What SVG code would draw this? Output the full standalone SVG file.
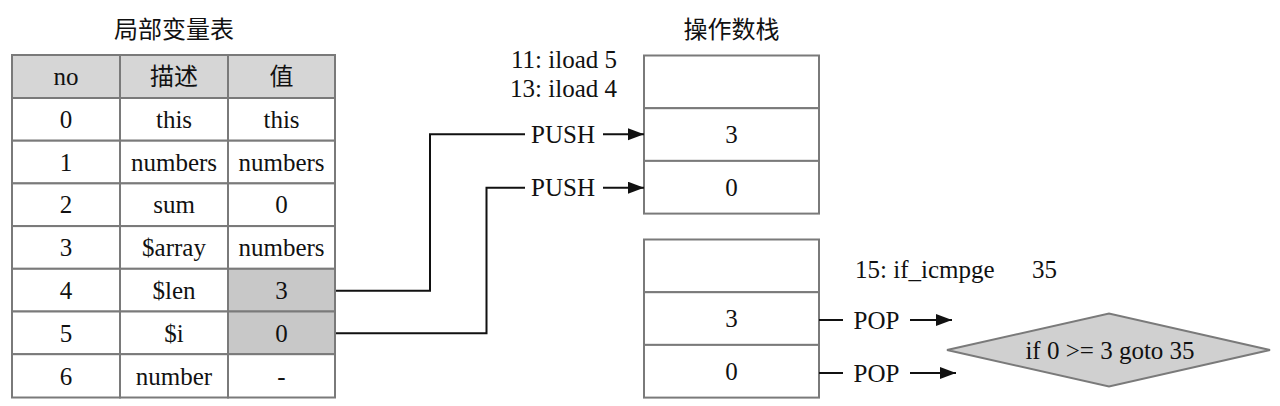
<svg xmlns="http://www.w3.org/2000/svg" width="1280" height="406" viewBox="0 0 1280 406">
<style>
text{font-family:"Liberation Serif","Noto Sans CJK SC",serif;font-size:25px;fill:#111;text-anchor:middle}
.cjk{font-family:"Noto Sans CJK SC","Liberation Serif",serif;font-size:24px}
.cell{fill:#fff;stroke:#7a7a7a;stroke-width:2}
.hd{fill:#d6d6d6;stroke:#7a7a7a;stroke-width:2}
.hl{fill:#c8c8c8;stroke:#7a7a7a;stroke-width:2}
.wire{fill:none;stroke:#111;stroke-width:2}
.arr{fill:none;stroke:#111;stroke-width:2;marker-end:url(#ah)}
</style>
<defs>
<marker id="ah" markerUnits="userSpaceOnUse" markerWidth="18" markerHeight="14" refX="16" refY="6" orient="auto">
<path d="M0,0 L16,6 L0,12 Z" fill="#111"/>
</marker>
</defs>
<rect width="1280" height="406" fill="#fff"/>

<g id="local-var-table">
<text class="cjk" x="174" y="38">局部变量表</text>
<rect class="hd" x="12" y="55" width="108" height="43"/>
<rect class="hd" x="120" y="55" width="108" height="43"/>
<rect class="hd" x="228" y="55" width="107" height="43"/>
<text x="66" y="85">no</text>
<text class="cjk" x="174" y="85">描述</text>
<text class="cjk" x="281.5" y="85">值</text>

<rect class="cell" x="12" y="98" width="108" height="42.7"/>
<rect class="cell" x="120" y="98" width="108" height="42.7"/>
<rect class="cell" x="228" y="98" width="107" height="42.7"/>
<text x="66" y="128">0</text><text x="174" y="128">this</text><text x="281.5" y="128">this</text>

<rect class="cell" x="12" y="140.7" width="108" height="42.7"/>
<rect class="cell" x="120" y="140.7" width="108" height="42.7"/>
<rect class="cell" x="228" y="140.7" width="107" height="42.7"/>
<text x="66" y="170.7">1</text><text x="174" y="170.7">numbers</text><text x="281.5" y="170.7">numbers</text>

<rect class="cell" x="12" y="183.4" width="108" height="42.7"/>
<rect class="cell" x="120" y="183.4" width="108" height="42.7"/>
<rect class="cell" x="228" y="183.4" width="107" height="42.7"/>
<text x="66" y="213.4">2</text><text x="174" y="213.4">sum</text><text x="281.5" y="213.4">0</text>

<rect class="cell" x="12" y="226.1" width="108" height="42.7"/>
<rect class="cell" x="120" y="226.1" width="108" height="42.7"/>
<rect class="cell" x="228" y="226.1" width="107" height="42.7"/>
<text x="66" y="256.1">3</text><text x="174" y="256.1">$array</text><text x="281.5" y="256.1">numbers</text>

<rect class="cell" x="12" y="268.8" width="108" height="42.7"/>
<rect class="cell" x="120" y="268.8" width="108" height="42.7"/>
<rect class="hl" x="228" y="268.8" width="107" height="42.7"/>
<text x="66" y="298.8">4</text><text x="174" y="298.8">$len</text><text x="281.5" y="298.8">3</text>

<rect class="cell" x="12" y="311.5" width="108" height="42.7"/>
<rect class="cell" x="120" y="311.5" width="108" height="42.7"/>
<rect class="hl" x="228" y="311.5" width="107" height="42.7"/>
<text x="66" y="341.5">5</text><text x="174" y="341.5">$i</text><text x="281.5" y="341.5">0</text>

<rect class="cell" x="12" y="354.2" width="108" height="43.3"/>
<rect class="cell" x="120" y="354.2" width="108" height="43.3"/>
<rect class="cell" x="228" y="354.2" width="107" height="43.3"/>
<text x="66" y="384.5">6</text><text x="174" y="384.5">number</text><text x="281.5" y="384.5">-</text>
</g>

<g id="operand-stack-1">
<text class="cjk" x="731.5" y="38">操作数栈</text>
<rect class="cell" x="644" y="55.5" width="175" height="52.7"/>
<rect class="cell" x="644" y="108.2" width="175" height="52.7"/>
<rect class="cell" x="644" y="160.9" width="175" height="52.7"/>
<text x="731.5" y="143">3</text>
<text x="731.5" y="196">0</text>
</g>

<g id="operand-stack-2">
<rect class="cell" x="644" y="239.5" width="175" height="52.7"/>
<rect class="cell" x="644" y="292.2" width="175" height="52.7"/>
<rect class="cell" x="644" y="344.9" width="175" height="52.7"/>
<text x="731.5" y="327">3</text>
<text x="731.5" y="380">0</text>
</g>

<g id="decision">
<polygon points="947,350 1109,313.5 1270,350 1109,386.5" fill="#d0d0d0" stroke="#7a7a7a" stroke-width="2"/>
<text x="1110" y="358.5">if 0 &gt;= 3 goto 35</text>
</g>

<g id="labels">
<text x="617" y="68" style="text-anchor:end">11: iload 5</text>
<text x="617" y="97" style="text-anchor:end">13: iload 4</text>
<text x="563" y="142.5">PUSH</text>
<text x="563" y="196">PUSH</text>
<text x="855" y="278" style="text-anchor:start">15: if_icmpge<tspan x="1032">35</tspan></text>
<text x="876.5" y="328.5">POP</text>
<text x="876.5" y="381.5">POP</text>
</g>

<g id="connectors">
<polyline class="wire" points="336,290.7 430,290.7 430,134.3 525,134.3"/>
<polyline class="wire" points="336,333.3 486.5,333.3 486.5,187.7 525,187.7"/>
<line class="arr" x1="603" y1="134.3" x2="644" y2="134.3"/>
<line class="arr" x1="603" y1="187.7" x2="644" y2="187.7"/>
<line class="wire" x1="819" y1="320" x2="843" y2="320"/>
<line class="wire" x1="819" y1="373" x2="843" y2="373"/>
<line class="arr" x1="910" y1="320" x2="952" y2="320"/>
<line class="arr" x1="910" y1="373" x2="956" y2="373"/>
</g>
</svg>
